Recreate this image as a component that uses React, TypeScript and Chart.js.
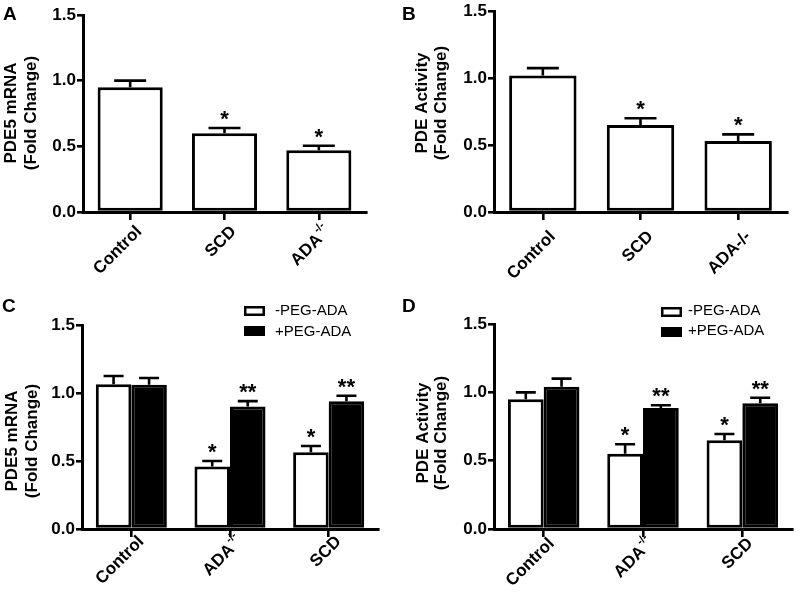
import React, { useEffect, useRef } from "react";
import { Chart, registerables } from "chart.js";
Chart.register(...registerables);

// ---------- data ----------
const categoriesAB = ["Control", "SCD", "ADA-/-"];
const categoriesCD = ["Control", "ADA-/-", "SCD"];
const seriesNames = ["-PEG-ADA", "+PEG-ADA"];
const yTicks = [0, 0.5, 1.0, 1.5];

const meanA = [0.95, 0.6, 0.47];
const errA = [0.05, 0.04, 0.035];
const starsA = ["", "*", "*"];

const meanB = [1.02, 0.65, 0.53];
const errB = [0.055, 0.05, 0.05];
const starsB = ["", "*", "*"];

const meanCminus = [1.065, 0.46, 0.565];
const errCminus = [0.06, 0.04, 0.045];
const starsCminus = ["", "*", "*"];
const meanCplus = [1.06, 0.9, 0.94];
const errCplus = [0.05, 0.04, 0.04];
const starsCplus = ["", "**", "**"];

const meanDminus = [0.95, 0.55, 0.65];
const errDminus = [0.05, 0.07, 0.045];
const starsDminus = ["", "*", "*"];
const meanDplus = [1.04, 0.885, 0.92];
const errDplus = [0.06, 0.02, 0.04];
const starsDplus = ["", "**", "**"];

const FONT = "'Liberation Sans', Arial, Helvetica, sans-serif";

type DS = { label: string; data: number[]; err: number[]; stars: string[]; fill: string };
type Panel = {
  letter: string;
  left: number; top: number; w: number; h: number;
  pad: { left: number; top: number; right: number; bottom: number };
  letterX: number; letterY: number;
  title: string[]; titleX: number[]; titleCY: number;
  categories: string[]; superscript: boolean;
  datasets: DS[];
  barPct: number; catPct: number; capW: number;
  labelDX: number; labelDY: number;
  legend?: { x: number; y1: number; y2: number; textX: number; base1: number; base2: number };
};

const panels: Panel[] = [
  {
    letter: "A", left: 0, top: 0, w: 400, h: 290,
    pad: { left: 83, top: 15, right: 34, bottom: 78 },
    letterX: 3, letterY: 20,
    title: ["PDE5 mRNA", "(Fold Change)"], titleX: [10, 30], titleCY: 113,
    categories: categoriesAB, superscript: true,
    datasets: [{ label: "A", data: meanA, err: errA, stars: starsA, fill: "#fff" }],
    barPct: 0.69, catPct: 1, capW: 32, labelDX: 9, labelDY: 17,
  },
  {
    letter: "B", left: 400, top: 0, w: 400, h: 290,
    pad: { left: 94, top: 10, right: 13, bottom: 78 },
    letterX: 2, letterY: 20,
    title: ["PDE Activity", "(Fold Change)"], titleX: [21, 40], titleCY: 103,
    categories: categoriesAB, superscript: false,
    datasets: [{ label: "B", data: meanB, err: errB, stars: starsB, fill: "#fff" }],
    barPct: 0.69, catPct: 1, capW: 32, labelDX: 10, labelDY: 22,
  },
  {
    letter: "C", left: 0, top: 290, w: 400, h: 307,
    pad: { left: 82, top: 35, right: 22, bottom: 68 },
    letterX: 2, letterY: 22,
    title: ["PDE5 mRNA", "(Fold Change)"], titleX: [10.5, 31], titleCY: 151,
    categories: categoriesCD, superscript: true,
    datasets: [
      { label: seriesNames[0], data: meanCminus, err: errCminus, stars: starsCminus, fill: "#fff" },
      { label: seriesNames[1], data: meanCplus, err: errCplus, stars: starsCplus, fill: "#000" },
    ],
    barPct: 1, catPct: 0.72, capW: 20, labelDX: 10, labelDY: 10,
    legend: { x: 244, y1: 16, y2: 36, textX: 275, base1: 25, base2: 46 },
  },
  {
    letter: "D", left: 400, top: 290, w: 400, h: 307,
    pad: { left: 94, top: 34, right: 8, bottom: 68 },
    letterX: 2, letterY: 22,
    title: ["PDE Activity", "(Fold Change)"], titleX: [22, 40], titleCY: 143,
    categories: categoriesCD, superscript: true,
    datasets: [
      { label: seriesNames[0], data: meanDminus, err: errDminus, stars: starsDminus, fill: "#fff" },
      { label: seriesNames[1], data: meanDplus, err: errDplus, stars: starsDplus, fill: "#000" },
    ],
    barPct: 1, catPct: 0.72, capW: 20, labelDX: 8, labelDY: 12,
    legend: { x: 261, y1: 17, y2: 37, textX: 288, base1: 25, base2: 45 },
  },
];

function makePlugin(p: Panel) {
  return {
    id: "deco" + p.letter,
    afterDatasetsDraw(chart: any) {
      const ctx = chart.ctx;
      const ys = chart.scales.y;
      p.datasets.forEach((ds, di) => {
        const meta = chart.getDatasetMeta(di);
        meta.data.forEach((el: any, i: number) => {
          const x = el.x;
          const yb = ys.getPixelForValue(ds.data[i]);
          const yt = ys.getPixelForValue(ds.data[i] + ds.err[i]);
          ctx.save();
          ctx.strokeStyle = "#000";
          ctx.lineWidth = 2.6;
          ctx.beginPath();
          ctx.moveTo(x, yb);
          ctx.lineTo(x, yt);
          ctx.moveTo(x - p.capW / 2, yt);
          ctx.lineTo(x + p.capW / 2, yt);
          ctx.stroke();
          if (ds.stars[i]) {
            ctx.fillStyle = "#000";
            ctx.font = `bold 22px ${FONT}`;
            ctx.textAlign = "center";
            ctx.textBaseline = "alphabetic";
            ctx.fillText(ds.stars[i], x, yt - 2);
          }
          ctx.restore();
        });
      });
    },
    afterDraw(chart: any) {
      const ctx = chart.ctx;
      const xs = chart.scales.x;
      const area = chart.chartArea;
      ctx.save();
      ctx.fillStyle = "#000";
      // panel letter
      ctx.font = `bold 19px ${FONT}`;
      ctx.textAlign = "left";
      ctx.textBaseline = "alphabetic";
      ctx.fillText(p.letter, p.letterX, p.letterY);
      // y title
      const tfs = 17;
      ctx.font = `bold ${tfs}px ${FONT}`;
      ctx.textAlign = "center";
      p.title.forEach((line, li) => {
        ctx.save();
        ctx.translate(p.titleX[li] + 0.36 * tfs, p.titleCY);
        ctx.rotate(-Math.PI / 2);
        ctx.fillText(line, 0, 0);
        ctx.restore();
      });
      // x labels
      p.categories.forEach((lab, i) => {
        const tx = xs.getPixelForValue(i);
        let main = lab;
        let sup = "";
        if (p.superscript && lab.endsWith("-/-")) {
          main = lab.slice(0, -3);
          sup = "-/-";
        }
        const mainFont = `bold 17px ${FONT}`;
        const supFont = `bold 11px ${FONT}`;
        ctx.font = mainFont;
        const wMain = ctx.measureText(main).width;
        ctx.font = supFont;
        const wSup = sup ? ctx.measureText(sup).width + 1 : 0;
        ctx.save();
        ctx.translate(tx + p.labelDX, area.bottom + p.labelDY);
        ctx.rotate(-Math.PI / 4);
        ctx.textBaseline = "middle";
        ctx.textAlign = "left";
        ctx.font = mainFont;
        ctx.fillText(main, -(wMain + wSup), 0);
        if (sup) {
          ctx.font = supFont;
          ctx.fillText(sup, -wSup + 1, -7);
        }
        ctx.restore();
      });
      // legend
      if (p.legend) {
        const L = p.legend;
        ctx.fillStyle = "#fff";
        ctx.fillRect(L.x, L.y1, 21, 10);
        ctx.strokeStyle = "#000";
        ctx.lineWidth = 2.5;
        ctx.strokeRect(L.x + 1.25, L.y1 + 1.25, 18.5, 7.5);
        ctx.fillStyle = "#000";
        ctx.fillRect(L.x, L.y2, 21, 10);
        ctx.font = `15px ${FONT}`;
        ctx.textAlign = "left";
        ctx.textBaseline = "alphabetic";
        ctx.fillText(p.datasets[0].label, L.textX, L.base1);
        ctx.fillText(p.datasets[1].label, L.textX, L.base2);
      }
      ctx.restore();
    },
  };
}

function PanelChart({ p }: { p: Panel }) {
  const ref = useRef<HTMLCanvasElement | null>(null);
  useEffect(() => {
    if (!ref.current) return;
    const chart = new Chart(ref.current, {
      type: "bar",
      data: {
        labels: p.categories,
        datasets: p.datasets.map((ds) => ({
          label: ds.label,
          data: ds.data,
          backgroundColor: ds.fill,
          borderColor: "#000",
          borderWidth: 3,
          borderSkipped: false,
          barPercentage: p.barPct,
          categoryPercentage: p.catPct,
        })),
      },
      options: {
        responsive: false,
        animation: false,
        devicePixelRatio: 1,
        layout: { padding: { left: 0, top: p.pad.top, right: p.pad.right, bottom: p.pad.bottom } },
        plugins: { legend: { display: false }, tooltip: { enabled: false }, title: { display: false } },
        scales: {
          x: {
            type: "category",
            offset: true,
            grid: { display: true, drawOnChartArea: false, drawTicks: true, tickLength: 8, color: "#000", lineWidth: 2.6, offset: false },
            border: { display: true, color: "#000", width: 3 },
            ticks: { display: false },
            afterFit: (s: any) => { s.height = 0; },
          },
          y: {
            min: 0,
            max: 1.5,
            afterBuildTicks: (s: any) => { s.ticks = yTicks.map((v) => ({ value: v })); },
            ticks: {
              color: "#000",
              padding: 1,
              font: { family: FONT, size: 17, weight: "bold" },
              callback: (v: any) => Number(v).toFixed(1),
            },
            grid: { display: true, drawOnChartArea: false, drawTicks: true, tickLength: 6, color: "#000", lineWidth: 2.6 },
            border: { display: true, color: "#000", width: 3 },
            afterFit: (s: any) => { s.width = p.pad.left; },
          },
        },
      },
      plugins: [makePlugin(p)],
    } as any);
    return () => chart.destroy();
  }, [p]);
  return (
    <canvas
      ref={ref}
      width={p.w}
      height={p.h}
      style={{ position: "absolute", left: p.left, top: p.top, width: p.w, height: p.h, display: "block" }}
    />
  );
}

export default function App() {
  return (
    <div style={{ position: "absolute", left: 0, top: 0, width: 800, height: 597, background: "#fff", overflow: "hidden" }}>
      {panels.map((p) => (
        <PanelChart key={p.letter} p={p} />
      ))}
    </div>
  );
}
